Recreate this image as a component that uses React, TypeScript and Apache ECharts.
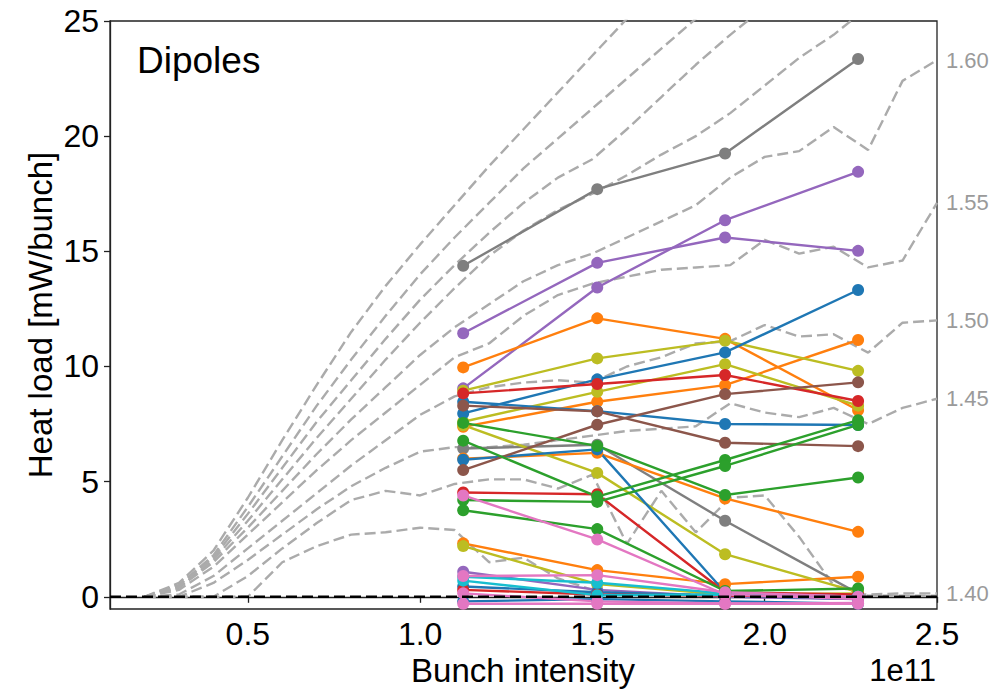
import React, { useEffect, useRef } from "react";
import * as echarts from "echarts";

// Simulated heat load curves (mW/bunch) vs bunch intensity (1e11 p/b)
const simIntensity = [0.2, 0.3, 0.4, 0.5, 0.6, 0.7, 0.8, 0.9, 1.0, 1.1, 1.2, 1.3, 1.4, 1.5, 1.6, 1.7, 1.8, 1.9, 2.0, 2.1, 2.2, 2.3, 2.4, 2.5];
const simUpper1 = [0, 0.6, 2.0, 4.3, 6.8, 9.2, 11.5, 13.5, 15.3, 17.0, 18.7, 20.3, 21.9, 23.5, 25.1, 26.6, 28.0, 29.3, 30.5, 31.7, 32.8, 33.9, 35.0, 36.0];
const simUpper2 = [0, 0.5, 1.8, 3.9, 6.1, 8.3, 10.3, 12.2, 14.0, 15.6, 17.1, 18.6, 19.9, 21.2, 22.5, 23.8, 25.1, 26.3, 27.5, 28.6, 29.7, 30.7, 31.7, 32.7];
const simUpper3 = [0, 0.5, 1.7, 3.6, 5.6, 7.6, 9.4, 11.2, 12.9, 14.4, 15.8, 17.1, 18.2, 19.0, 20.3, 21.7, 23.1, 24.4, 25.6, 26.7, 27.8, 28.8, 29.8, 30.8];
const simUpper4 = [0, 0.4, 1.6, 3.3, 5.1, 6.9, 8.6, 10.3, 11.9, 13.4, 14.8, 15.9, 16.8, 17.5, 18.3, 19.2, 20.0, 21.0, 22.2, 23.4, 24.4, 25.6, 26.5, 27.4];
const sim160 = [0, 0.4, 1.5, 3.0, 4.6, 6.2, 7.7, 9.1, 10.5, 11.7, 12.7, 13.7, 14.4, 14.9, 15.6, 16.3, 17.0, 18.2, 19.1, 19.35, 20.4, 19.4, 22.4, 23.3];
const sim155 = [0, 0.3, 1.3, 2.7, 4.1, 5.5, 6.8, 8.0, 9.2, 10.4, 11.0, 12.2, 13.1, 13.6, 13.9, 14.2, 14.3, 14.4, 15.5, 14.9, 15.2, 14.3, 14.6, 17.1];
const sim150 = [0, 0.1, 0.9, 2.1, 3.3, 4.5, 5.7, 6.8, 7.9, 8.7, 9.1, 9.3, 9.4, 9.3, 10.0, 10.4, 11.0, 11.1, 11.8, 11.3, 11.4, 10.6, 11.9, 12.0];
const sim145 = [0, 0, 0.6, 1.6, 2.7, 3.8, 4.8, 5.6, 6.3, 6.5, 6.5, 6.6, 6.8, 7.0, 7.2, 7.3, 7.4, 8.4, 8.0, 7.8, 8.2, 7.5, 8.2, 8.6];
const simLow = [0, 0, 0, 0.9, 2.1, 3.2, 4.2, 4.6, 4.4, 4.9, 5.1, 5.1, 4.7, 5.3, 2.3, 4.6, 2.8, 4.3, 4.4, 2.6, 0.5, 0.05, 0.05, 0.05];
const sim140 = [0, 0, 0, 0, 1.5, 2.2, 2.7, 2.8, 3.0, 2.9, 1.5, 1.7, 0.8, 0.3, 0.2, 0.1, 0.1, 0.1, 0.1, 0.1, 0.1, 0.1, 0.15, 0.15];

// Measured heat load per cell at the four fill intensities
const measIntensity = [1.125, 1.514, 1.885, 2.271];
const grayCells = [[14.37, 17.7, 19.25, 23.35], [6.44, 6.6, 3.3, 0.15]];
const purpleCells = [[11.44, 14.5, 15.6, 15.02], [9.05, 13.43, 16.35, 18.45], [1.09, 0.3, 0.0, -0.1]];
const orangeCells = [[9.96, 12.09, 11.2, 8.1], [7.38, 8.47, 9.19, 11.15], [6.0, 6.25, 4.27, 2.82], [2.32, 1.16, 0.55, 0.87]];
const oliveCells = [[8.95, 10.35, 11.12, 9.81], [7.6, 8.9, 10.1, 8.3], [7.45, 5.38, 1.85, 0.2], [2.2, 0.55, 0.1, 0.15]];
const blueCells = [[7.96, 9.44, 10.61, 13.32], [8.47, 8.06, 7.5, 7.46], [5.95, 6.4, 0.2, 0.05], [-0.2, -0.1, -0.2, -0.3], [0.45, 0.2, 0.05, -0.1]];
const redCells = [[8.83, 9.24, 9.63, 8.5], [4.53, 4.45, 0.2, 0.1], [0.3, 0.1, 0.05, 0.0]];
const brownCells = [[5.5, 7.47, 8.8, 9.31], [8.3, 8.05, 6.69, 6.54]];
const greenCells = [[6.78, 4.35, 5.94, 7.67], [7.55, 6.55, 4.42, 5.18], [4.2, 4.12, 5.68, 7.46], [3.76, 2.94, 0.25, 0.36]];
const pinkCells = [[4.4, 2.49, 0.1, -0.1], [0.9, 0.94, 0.2, 0.0], [0.15, -0.2, -0.29, -0.27], [-0.3, -0.3, -0.3, -0.3]];
const cyanCells = [[0.87, 0.61, 0.15, 0.0], [0.7, 0.07, 0.1, 0.0]];

const xTicks = [0.5, 1.0, 1.5, 2.0, 2.5];
const yTicks = [0, 5, 10, 15, 20, 25];

const FONT = "'Liberation Sans', Arial, Helvetica, sans-serif";

const simCurves: { values: number[]; label?: string }[] = [
  { values: simUpper1 },
  { values: simUpper2 },
  { values: simUpper3 },
  { values: simUpper4 },
  { values: sim160, label: "1.60" },
  { values: sim155, label: "1.55" },
  { values: sim150, label: "1.50" },
  { values: sim145, label: "1.45" },
  { values: simLow },
  { values: sim140, label: "1.40" },
];

const cellGroups: { color: string; rows: number[][] }[] = [
  { color: "#7f7f7f", rows: grayCells },
  { color: "#9467bd", rows: purpleCells },
  { color: "#ff7f0e", rows: orangeCells },
  { color: "#bcbd22", rows: oliveCells },
  { color: "#1f77b4", rows: blueCells },
  { color: "#d62728", rows: redCells },
  { color: "#8c564b", rows: brownCells },
  { color: "#2ca02c", rows: greenCells },
  { color: "#17becf", rows: cyanCells },
  { color: "#e377c2", rows: pinkCells },
];

const App = () => {
  const ref = useRef<HTMLDivElement>(null);

  useEffect(() => {
    const chart = echarts.init(ref.current!, null, { renderer: "svg" });

    const series: any[] = [];

    simCurves.forEach((c, k) => {
      series.push({
        type: "line",
        name: c.label ?? `sim${k}`,
        data: simIntensity.map((x, i) => [x, c.values[i]]),
        showSymbol: false,
        symbol: "none",
        clip: true,
        z: 2,
        lineStyle: { color: "#ababab", width: 2.4, type: [11, 5] },
        endLabel: c.label
          ? {
              show: true,
              formatter: c.label,
              color: "#9a9a9a",
              fontSize: 22,
              fontFamily: FONT,
              distance: 9,
            }
          : undefined,
      });
    });

    cellGroups.forEach((g) => {
      g.rows.forEach((row) => {
        series.push({
          type: "line",
          data: measIntensity.map((x, i) => [x, row[i]]),
          symbol: "circle",
          symbolSize: 12,
          showSymbol: true,
          z: 3,
          lineStyle: { color: g.color, width: 2.4 },
          itemStyle: { color: g.color },
        });
      });
    });

    // zero reference
    series.push({
      type: "line",
      data: [
        [0.1, 0],
        [2.5, 0],
      ],
      symbol: "none",
      z: 5,
      lineStyle: { color: "#000", width: 2.5, type: [11, 5] },
    });

    chart.setOption({
      animation: false,
      backgroundColor: "#fff",
      grid: {
        left: 110,
        right: 67,
        top: 21,
        bottom: 80,
        show: true,
        borderColor: "#222",
        borderWidth: 1.3,
        outerBoundsMode: "none",
      },
      xAxis: {
        type: "value",
        min: 0.1,
        max: 2.5,
        splitLine: { show: false },
        axisLine: { show: true, lineStyle: { color: "#222", width: 1.3 } },
        axisTick: { show: true, customValues: xTicks, length: 6, lineStyle: { color: "#222", width: 1.3 } },
        axisLabel: {
          customValues: xTicks,
          formatter: (v: number) => v.toFixed(1),
          color: "#000",
          fontSize: 32,
          fontFamily: FONT,
          margin: 9,
        },
      },
      yAxis: {
        type: "value",
        min: -0.53,
        max: 25,
        splitLine: { show: false },
        axisLine: { show: true, lineStyle: { color: "#222", width: 1.3 } },
        axisTick: { show: true, customValues: yTicks, length: 6, lineStyle: { color: "#222", width: 1.3 } },
        axisLabel: {
          customValues: yTicks,
          formatter: (v: number) => String(v),
          color: "#000",
          fontSize: 32,
          fontFamily: FONT,
          margin: 11,
        },
      },
      graphic: [
        {
          type: "text",
          x: 137,
          y: 60,
          style: { text: "Dipoles", font: `37px ${FONT}`, fill: "#000", textAlign: "left", textVerticalAlign: "middle" },
        },
        {
          type: "text",
          x: 523,
          y: 670,
          style: { text: "Bunch intensity", font: `33px ${FONT}`, fill: "#000", textAlign: "center", textVerticalAlign: "middle" },
        },
        {
          type: "text",
          x: 936,
          y: 670,
          style: { text: "1e11", font: `31px ${FONT}`, fill: "#000", textAlign: "right", textVerticalAlign: "middle" },
        },
        {
          type: "text",
          x: 40,
          y: 315,
          rotation: Math.PI / 2,
          style: { text: "Heat load [mW/bunch]", font: `33px ${FONT}`, fill: "#000", textAlign: "center", textVerticalAlign: "middle" },
        },
      ],
      series,
    });

    return () => chart.dispose();
  }, []);

  return <div ref={ref} style={{ position: "fixed", left: 0, top: 0, width: 1004, height: 689 }} />;
};

export default App;
